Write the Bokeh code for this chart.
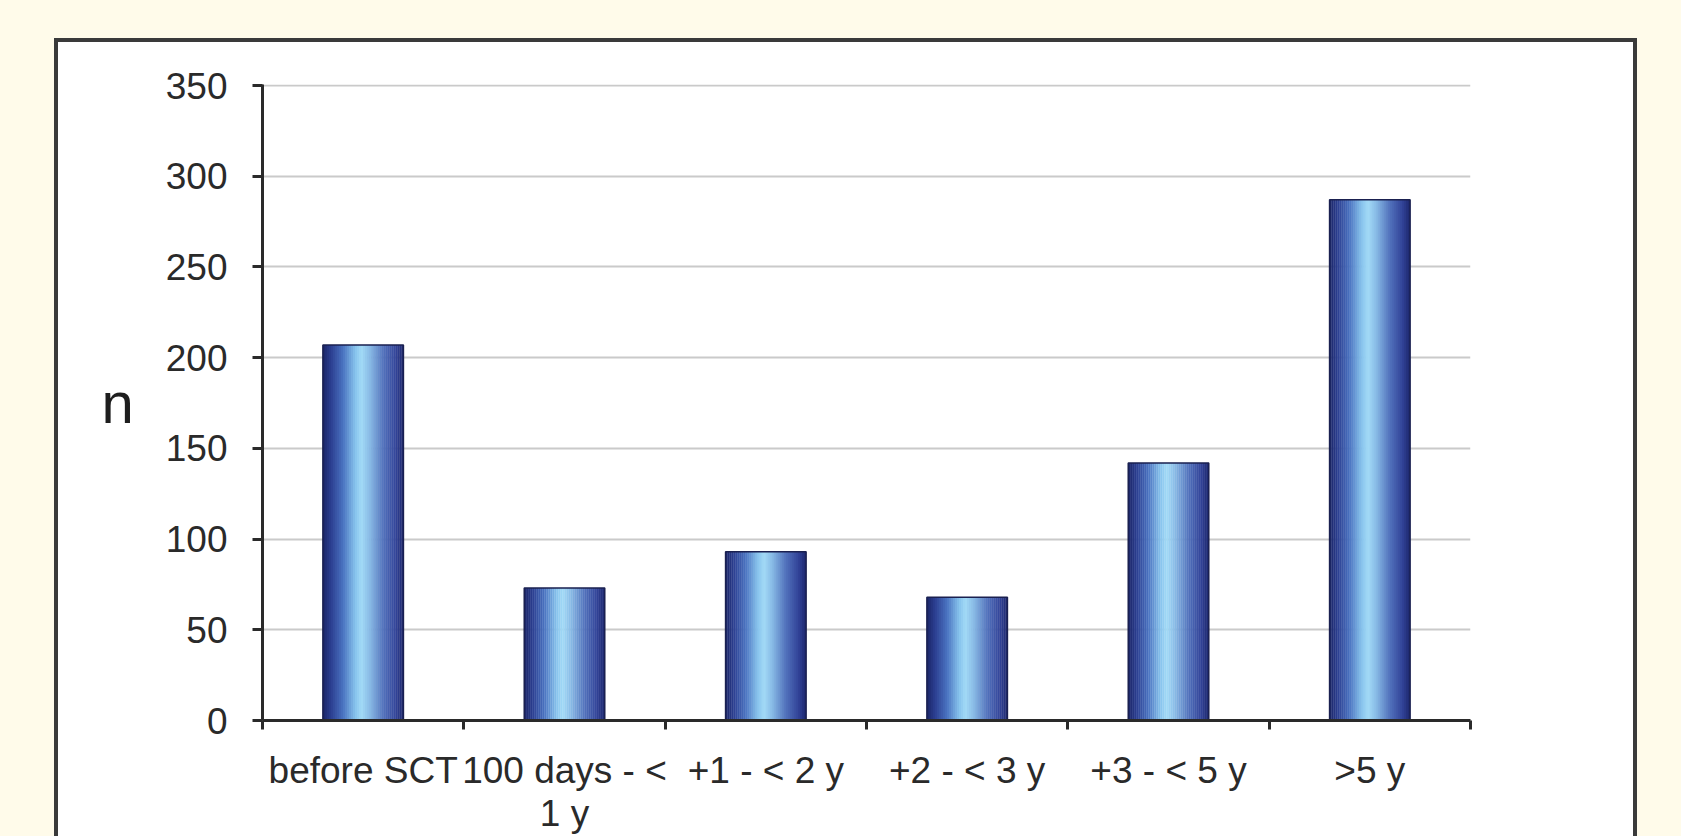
from bokeh.plotting import figure
from bokeh.models import ColumnDataSource, FixedTicker
from bokeh.embed import file_html
from bokeh.resources import INLINE

# Number of patients per period
categories = ["before SCT", "100 days - <\n1 y", "+1 - < 2 y", "+2 - < 3 y", "+3 - < 5 y", ">5 y"]
counts = [207, 73, 93, 68, 142, 287]
y_ticks = [0, 50, 100, 150, 200, 250, 300, 350]

FONT = "Liberation Sans"
BAR_W = 0.4
PAGE = "#fffbea"
EDGE = "#3a3a3a"

# horizontal shading across each bar: (position, colour)
stops = [
    (0.00, (0x1b, 0x25, 0x66)),
    (0.10, (0x2b, 0x3e, 0x90)),
    (0.25, (0x4a, 0x72, 0xc0)),
    (0.40, (0x86, 0xc2, 0xec)),
    (0.48, (0xa2, 0xda, 0xf6)),
    (0.58, (0x88, 0xbb, 0xe6)),
    (0.75, (0x52, 0x72, 0xbc)),
    (0.90, (0x33, 0x45, 0x9a)),
    (1.00, (0x1d, 0x27, 0x6e)),
]


def shade(t):
    for (t0, c0), (t1, c1) in zip(stops[:-1], stops[1:]):
        if t0 <= t <= t1:
            f = (t - t0) / (t1 - t0) if t1 > t0 else 0
            r, g, b = (round(a + (bb - a) * f) for a, bb in zip(c0, c1))
            return f"#{r:02x}{g:02x}{b:02x}"
    return "#1d276e"


N_STRIPS = 40
strip_x, strip_top, strip_col = [], [], []
for i, v in enumerate(counts):
    left = i + 0.5 - BAR_W / 2
    for k in range(N_STRIPS):
        t = (k + 0.5) / N_STRIPS
        strip_x.append(left + t * BAR_W)
        strip_top.append(v)
        strip_col.append(shade(t))

strips = ColumnDataSource(dict(x=strip_x, top=strip_top, color=strip_col))
bars = ColumnDataSource(dict(x=[i + 0.5 for i in range(len(categories))], top=counts))

p = figure(
    width=1681, height=836,
    x_range=(0, len(categories)), y_range=(0, 350.6),
    output_backend="svg", toolbar_location=None,
    min_border_left=262, min_border_right=211,
    min_border_top=84, min_border_bottom=111,
    border_fill_alpha=0, background_fill_color="white",
    outline_line_color=None,
)

# page colour with a white, dark-edged chart panel behind the canvas
p.styles = {
    "background-color": PAGE,
    "background-image": f"linear-gradient(white, white), linear-gradient({EDGE}, {EDGE})",
    "background-size": "1575px 800px, 1583px 800px",
    "background-position": "58px 42px, 54px 38px",
    "background-repeat": "no-repeat",
}

p.vbar(x="x", top="top", bottom=0, width=BAR_W / N_STRIPS * 1.15,
       fill_color="color", line_color=None, source=strips)
p.vbar(x="x", top="top", bottom=0, width=BAR_W,
       fill_color=None, line_color="#1a2050", line_width=1.5, source=bars)

# grid
p.xgrid.grid_line_color = None
p.ygrid.grid_line_color = "#cacaca"
p.ygrid.grid_line_width = 2

# y axis
p.yaxis.ticker = FixedTicker(ticks=y_ticks)
p.yaxis.axis_line_color = "#2a2a2a"
p.yaxis.axis_line_width = 3
p.yaxis.major_tick_line_color = "#2a2a2a"
p.yaxis.major_tick_line_width = 3
p.yaxis.major_tick_out = 10
p.yaxis.major_tick_in = 0
p.yaxis.minor_tick_line_color = None
p.yaxis.major_label_standoff = 25
p.yaxis.major_label_text_font = FONT
p.yaxis.major_label_text_font_size = "37px"
p.yaxis.major_label_text_color = "#2a2a2a"
p.yaxis.axis_label = "n"
p.yaxis.axis_label_orientation = "horizontal"
p.yaxis.axis_label_text_font = FONT
p.yaxis.axis_label_text_font_style = "normal"
p.yaxis.axis_label_text_font_size = "58px"
p.yaxis.axis_label_text_color = "#1e1e1e"
p.yaxis.axis_label_standoff = 29

# x axis: labels centred under bars, ticks on category boundaries
centers = [i + 0.5 for i in range(len(categories))]
p.xaxis.ticker = FixedTicker(ticks=centers, minor_ticks=list(range(len(categories) + 1)))
p.xaxis.major_label_overrides = {c: lab for c, lab in zip(centers, categories)}
p.xaxis.axis_line_color = "#2a2a2a"
p.xaxis.axis_line_width = 3
p.xaxis.major_tick_line_color = None
p.xaxis.major_tick_out = 0
p.xaxis.major_tick_in = 0
p.xaxis.minor_tick_line_color = "#2a2a2a"
p.xaxis.minor_tick_line_width = 3
p.xaxis.minor_tick_out = 9
p.xaxis.minor_tick_in = 0
p.xaxis.major_label_standoff = 20
p.xaxis.major_label_text_font = FONT
p.xaxis.major_label_text_font_size = "37px"
p.xaxis.major_label_text_color = "#2a2a2a"
p.xaxis.major_label_text_line_height = 1.05

open("out.html", "w").write(file_html(p, INLINE))
